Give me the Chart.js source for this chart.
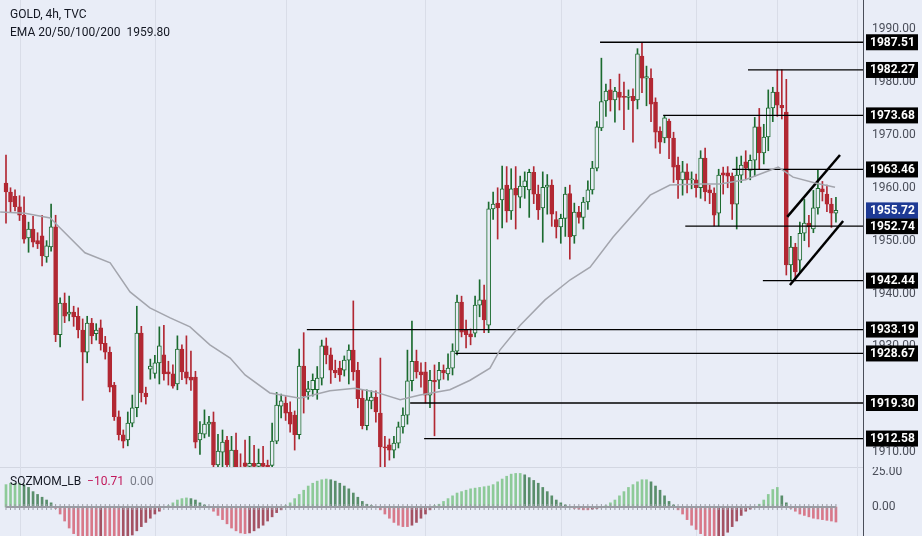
<!DOCTYPE html>
<html><head><meta charset="utf-8">
<script src="https://cdn.jsdelivr.net/npm/chart.js@4.4.0/dist/chart.umd.min.js"></script>
<style>
html,body{margin:0;padding:0;background:#e9edf7;overflow:hidden;font-family:Roboto,"Liberation Sans",sans-serif;}
#wrap{position:relative;width:922px;height:536px;}
#c1{position:absolute;left:0;top:0;width:922px;height:467px;}
#c2{position:absolute;left:0;top:467px;width:922px;height:69px;}
.lbl{position:absolute;font-size:12px;color:#131722;white-space:pre;}
</style></head><body>
<div id="wrap">
<canvas id="c1" width="922" height="467"></canvas>
<canvas id="c2" width="922" height="69"></canvas>
<div class="lbl" style="left:10px;top:7px">GOLD, 4h, TVC</div>
<div class="lbl" style="left:10px;top:25px">EMA 20/50/100/200  1959.80</div>
<div class="lbl" style="left:10px;top:474px">SQZMOM_LB  <span style="color:#c2185b">−10.71</span>  <span style="color:#787b86">0.00</span></div>
</div>
<script>
// ---- DATA ----
const openP = [1960.9,1959.2,1958.4,1956.4,1954.8,1950.5,1952.2,1950.0,1950.9,1946.9,1948.8,1952.6,1932.2,1938.2,1936.1,1936.5,1935.7,1933.1,1928.9,1934.4,1932.4,1933.5,1930.6,1928.9,1922.7,1916.7,1913.3,1912.3,1915.5,1918.4,1932.5,1921.2,1925.7,1924.9,1926.9,1928.4,1925.2,1924.8,1922.9,1929.5,1925.2,1924.2,1924.2,1912.3,1913.4,1915.3,1915.7,1907.6,1910.0,1912.3,
1907.0,1910.4,1907.2,1908.0,1907.3,1907.9,1907.3,1907.9,1907.5,1907.5,1912.1,1918.7,1919.3,1917.6,1917.0,1913.3,1926.3,1921.4,1921.8,1921.8,1924.0,1930.1,1928.4,1925.5,1925.9,1925.5,1927.4,1929.3,1925.5,1920.2,1915.0,1919.7,1920.4,1917.4,1911.0,1911.4,1910.4,1911.7,1914.8,1917.0,1923.5,1927.2,1925.2,1925.2,1920.8,1923.6,1923.6,1925.5,1924.8,1925.9,1929.1,1938.4,1933.1,1932.4,1932.5,1937.8,1938.8,1934.0,1956.0,1957.1,
1957.7,1960.5,1955.6,1959.9,1958.2,1960.2,1959.6,1962.9,1958.8,1956.2,1960.1,1960.5,1954.0,1952.6,1954.2,1958.9,1950.9,1955.4,1954.4,1957.3,1959.6,1963.7,1971.3,1976.4,1978.5,1976.6,1978.1,1977.3,1977.1,1977.3,1976.6,1984.9,1980.7,1980.7,1976.2,1970.7,1969.4,1972.6,1969.4,1964.3,
1961.5,1963.0,1961.5,1961.5,1960.0,1965.6,1959.6,1959.0,1955.2,1962.8,1962.8,1962.2,1956.9,1962.4,1964.9,1963.3,1965.2,1971.5,1966.6,1969.6,1975.1,1978.1,1975.6,1974.3,1945.4,1948.8,1946.3,1951.4,1953.3,1952.2,1956.2,1959.8,1958.8,1956.9,1955.2];
const highP = [1966.2,1960.0,1959.6,1958.5,1958.3,1953.5,1954.6,1951.5,1954.8,1950.0,1956.9,1954.8,1939.2,1940.1,1939.5,1937.6,1937.3,1935.2,1935.7,1935.3,1934.3,1935.0,1931.9,1929.9,1923.2,1917.8,1914.2,1917.6,1920.8,1937.6,1933.8,1922.3,1927.6,1928.3,1933.7,1934.0,1927.2,1926.5,1932.0,1930.3,1932.0,1929.1,1925.3,1915.8,1918.0,1916.8,1917.6,1913.4,1914.2,1913.0,
1913.0,1913.6,1909.7,1912.3,1913.0,1911.3,1910.6,1911.1,1908.5,1915.5,1921.3,1921.0,1920.5,1919.5,1917.8,1929.5,1932.6,1923.4,1924.8,1926.2,1931.2,1931.6,1929.7,1927.4,1927.2,1928.2,1930.3,1938.6,1927.0,1921.8,1921.8,1921.6,1921.6,1927.8,1913.0,1912.5,1913.0,1915.7,1918.4,1929.3,1934.8,1929.3,1926.9,1927.0,1925.5,1926.5,1927.0,1926.5,1928.6,1930.5,1939.7,1939.5,1935.0,1933.3,1939.5,1942.6,1941.6,1957.3,1959.2,1960.0,
1964.1,1964.0,1963.6,1964.0,1962.2,1963.0,1963.5,1964.0,1960.5,1963.0,1962.5,1961.5,1955.5,1955.0,1960.1,1960.5,1957.1,1956.5,1958.2,1961.3,1965.0,1972.5,1984.5,1979.6,1980.5,1979.0,1981.5,1980.0,1978.5,1978.7,1986.3,1987.5,1983.0,1982.5,1977.0,1971.5,1973.7,1973.0,1970.5,1965.8,
1965.0,1964.5,1963.0,1962.6,1967.0,1967.5,1960.5,1960.0,1963.5,1963.9,1964.0,1962.8,1965.8,1966.0,1967.0,1966.2,1973.3,1975.0,1972.0,1978.5,1979.0,1982.3,1982.3,1980.5,1950.8,1949.5,1953.5,1957.8,1954.8,1959.5,1963.5,1961.2,1960.5,1958.0,1958.2];
const lowP = [1953.3,1955.4,1955.6,1953.8,1949.5,1947.8,1948.8,1948.5,1945.2,1945.9,1948.0,1930.9,1929.9,1934.5,1934.8,1933.8,1931.6,1919.8,1926.9,1930.5,1931.2,1929.3,1927.6,1921.4,1916.0,1912.3,1910.8,1911.2,1914.8,1916.7,1919.5,1919.1,1923.8,1924.0,1922.9,1923.6,1922.7,1922.1,1921.8,1923.7,1922.9,1921.7,1910.8,1909.6,1912.7,1913.0,1907.0,1907.0,1907.0,1907.0,
1905,1905,1905,1905,1905,1905,1905,1905,1905,1905,1911.6,1916.5,1916.0,1913.8,1910.4,1912.5,1917.4,1920.0,1920.6,1920.0,1922.7,1926.7,1923.0,1924.1,1923.4,1924.4,1922.9,1923.6,1918.4,1914.4,1914.2,1918.2,1915.7,1905,1905,1908.5,1908.9,1910.8,1913.6,1915.3,1921.6,1924.0,1922.3,1919.3,1918.4,1913.1,1922.0,1923.8,1923.6,1924.6,1928.4,1931.8,1929.7,1930.3,1931.8,1935.6,1932.6,1932.6,1954.0,1950.3,
1952.4,1953.5,1954.0,1952.2,1956.2,1958.0,1954.4,1957.0,1954.0,1949.7,1955.0,1952.7,1950.5,1949.5,1950.8,1946.5,1949.5,1953.3,1952.2,1955.9,1958.8,1963.2,1970.8,1973.5,1974.5,1972.4,1974.7,1971.0,1974.8,1968.6,1974.9,1978.0,1975.5,1972.5,1967.5,1966.5,1968.5,1965.5,1961.0,1958.0,
1958.6,1959.0,1959.8,1958.2,1958.0,1957.5,1957.0,1952.8,1952.8,1958.8,1960.0,1954.0,1952.2,1961.0,1961.5,1961.5,1962.2,1963.5,1964.5,1967.0,1972.5,1973.5,1973.0,1943.5,1942.5,1942.4,1944.0,1950.0,1948.8,1951.5,1955.0,1957.5,1955.5,1952.5,1953.5];
const closeP = [1959.2,1957.3,1956.4,1954.8,1950.3,1952.2,1949.7,1949.4,1947.1,1949.0,1952.6,1932.2,1938.2,1935.7,1936.5,1935.6,1933.1,1928.9,1934.4,1932.0,1933.1,1930.5,1928.9,1922.3,1916.7,1913.3,1912.1,1915.5,1918.4,1932.5,1921.2,1920.5,1926.3,1926.9,1930.1,1924.8,1924.8,1922.5,1929.5,1925.2,1924.0,1923.6,1911.9,1913.6,1915.3,1915.7,1907.6,1910.2,1911.9,1907.6,
1910.4,1907.0,1907.0,1907.3,1907.9,1907.3,1907.9,1907.3,1907.2,1912.1,1918.9,1919.7,1917.4,1915.3,1913.3,1926.3,1920.6,1922.0,1923.6,1924.0,1930.1,1928.4,1925.5,1925.0,1924.6,1927.4,1929.3,1925.2,1920.1,1915.0,1919.9,1920.4,1917.6,1911.0,1910.8,1910.4,1911.7,1914.8,1917.0,1923.5,1927.2,1925.2,1924.6,1920.8,1923.6,1923.3,1925.5,1925.0,1925.9,1929.1,1938.4,1932.7,1932.2,1931.8,1937.8,1938.8,1935.0,1956.0,1956.9,1956.2,
1959.8,1955.6,1959.8,1958.6,1960.3,1961.3,1962.9,1958.8,1955.8,1960.1,1960.5,1955.0,1952.6,1954.2,1958.8,1950.7,1955.4,1954.4,1957.3,1959.6,1963.7,1971.5,1976.3,1978.3,1976.6,1978.3,1977.1,1977.1,1977.3,1976.4,1985.3,1980.7,1981.0,1975.8,1970.5,1968.6,1973.2,1969.4,1963.9,1961.5,
1963.0,1961.5,1961.7,1960.0,1965.6,1959.2,1959.0,1954.8,1962.4,1962.4,1962.2,1956.9,1962.4,1964.3,1963.7,1965.2,1971.5,1966.6,1969.6,1975.1,1978.1,1975.6,1975.1,1945.4,1948.8,1944.1,1951.4,1953.3,1952.6,1956.2,1959.9,1959.2,1956.9,1955.2,1955.72];
const emaIdx = [-1.3,4.2,9.8,12.0,17.5,23.1,27.5,31.9,36.4,40.8,45.2,49.7,53.0,58.5,65.2,71.8,77.4,81.8,87.4,91.8,98.4,102.9,107.3,109.5,114.0,119.5,125.1,129.5,134.6,142.8,147.2,153.9,158.3,163.9,169.4,171.2,174.5,179.4,183.8];
const emaVal = [1955.4,1955.2,1954.3,1952.4,1947.7,1945.8,1940.3,1937.3,1935.4,1933.7,1930.3,1927.8,1924.6,1921.2,1920.2,1921.6,1922.1,1921.4,1919.9,1920.8,1921.8,1923.6,1925.9,1929.3,1934.0,1938.8,1942.6,1945.0,1950.7,1958.6,1960.5,1960.7,1960.7,1961.5,1963.3,1963.9,1962.0,1960.9,1960.1];
const levelValues = [1987.51,1982.27,1973.68,1963.46,1952.74,1942.44,1933.19,1928.67,1919.30,1912.58];
const levelStart  = [131.7,164.5,145.7,161.0,150.6,167.8,66.7,99.6,89.6,92.7];
const channelUpper = [[173.2,1954.5],[184.9,1966.2]];
const channelLower = [[173.8,1941.6],[185.6,1953.7]];
const lastPrice = 1955.72;
const priceTicks = [1910,1930,1940,1950,1960,1970,1980,1990];
const sessionIdx = [3.1,33.0,62.1,93.0,123.1,153.0,171.0,188.7];
const momentum = [16,17,17,17,16,14,11,9,7,5,3,
-1,-5,-10,-15,-19,-21,-22,-22,-22,-22,-21,-22,-23,-24,-24,-23,-22,-20,-17,-14,-11,-8,-5,-3,
0.5,1,3,5,6,6.5,6,5,3,1.5,-0.5,
-3,-6,-9,-12,-15,-17,-18.5,-19,-18.5,-17,-15,-13,-10,-7,-4,-2,
1,3,6,9,12,15,17,18.5,19.5,20,19.5,18.5,17,15,13,10,7,4,2,1,0.5,
-2,-5,-8,-11,-13,-14,-14,-13,-11,-8,-5,-2,
1,2,4,6,8,10,11,12,13,13.5,14,14.5,15,16,18,20,22,23.5,24,24,23,21,19,17,14,11,8,5,3,1.5,0.5,
-1,-1.5,-2,-2,-1.5,-1,-0.5,
1,3,5,8,11,14,16,18,19.5,19.5,18,15,12,8,4,1.5,
-2,-5,-9,-13,-16,-19,-21,-23,-24,-23.5,-21,-18,-14,-10,-6,-3,-1.5,-0.5,
2,5,9,12.5,14,8,3,
-1,-3,-5,-6,-7,-8,-8.5,-9,-9.5,-10,-10.71];
const momTicks = [0,25];

// ---- STYLE ----
const RED='#b22833', GREEN='#1b6b2f', BG='#e9edf7';
const XMIN=-1.33, XMAX=190.0;
const idx = closeP.map((_,i)=>i);
const isUp = idx.map(i=>closeP[i]>=openP[i]);
Chart.defaults.font.family = 'Roboto, "Liberation Sans", sans-serif';
Chart.defaults.animation = false;

const lineDs = (pts,color,w)=>({type:'line',data:pts,borderColor:color,borderWidth:w,pointRadius:0,pointHoverRadius:0,fill:false,tension:0,order:0});

const datasets = [
  {type:'bar',data:idx.map(i=>({x:i,y:[lowP[i],highP[i]]})),backgroundColor:idx.map(i=>isUp[i]?GREEN:RED),barThickness:1,grouped:false,order:3},
  {type:'bar',data:idx.map(i=>({x:i,y:[Math.min(openP[i],closeP[i]),Math.max(openP[i],closeP[i])]})),
   backgroundColor:idx.map(i=>isUp[i]?BG:RED),borderColor:idx.map(i=>isUp[i]?GREEN:RED),borderWidth:1,borderSkipped:false,
   barThickness:4,minBarLength:1,grouped:false,order:2},
  lineDs(emaIdx.map((x,i)=>({x,y:emaVal[i]})),'#a3a5ad',1.5),
];
levelValues.forEach((v,i)=>datasets.push(lineDs([{x:levelStart[i],y:v},{x:XMAX,y:v}],'#000000',1.3)));
datasets.push(lineDs(channelUpper.map(p=>({x:p[0],y:p[1]})),'#000000',2.5));
datasets.push(lineDs(channelLower.map(p=>({x:p[0],y:p[1]})),'#000000',2.5));

const sessionGrid = {id:'sg',beforeDatasetsDraw(ch){const c=ch.ctx,xs=ch.scales.x,a=ch.chartArea;c.save();c.strokeStyle='#d9dde8';c.lineWidth=1;
  sessionIdx.forEach(s=>{const x=Math.round(xs.getPixelForValue(s))+0.5;c.beginPath();c.moveTo(x,a.top);c.lineTo(x,a.bottom);c.stroke();});c.restore();}};
const boxes = {id:'bx',afterDraw(ch){const c=ch.ctx,ys=ch.scales.y;c.save();c.font='bold 12px Roboto, "Liberation Sans", sans-serif';c.textBaseline='middle';
  const draw=(v,col)=>{const y=ys.getPixelForValue(v);c.fillStyle=col;c.fillRect(866,y-8,52,16);c.fillStyle='#fff';c.fillText(v.toFixed(2),870,y+0.5);};
  levelValues.forEach(v=>draw(v,'#000000'));draw(lastPrice,'#1e3a94');c.restore();}};

const yScale = (min,max,ticks)=>({position:'right',min,max,
  afterBuildTicks:s=>{s.ticks=ticks.map(v=>({value:v}));},
  afterFit:s=>{s.width=59;s.paddingTop=0;s.paddingBottom=0;},
  grid:{display:false,drawTicks:false},border:{display:true,color:'#4a4e59',width:1},
  ticks:{padding:9,color:'#4a4e59',font:{size:12},callback:v=>Number(v).toFixed(2)}});
const xScale = ()=>({type:'linear',min:XMIN,max:XMAX,offset:false,display:false});

new Chart(document.getElementById('c1'),{
  data:{datasets},
  options:{responsive:false,devicePixelRatio:1,layout:{padding:0,autoPadding:false},
    plugins:{legend:{display:false},tooltip:{enabled:false}},
    scales:{x:xScale(),y:yScale(1907.2,1995.5,priceTicks)}},
  plugins:[sessionGrid,boxes]
});

const momColor = idx.map(i=>{const v=momentum[i],p=i>0?momentum[i-1]:v;
  if(v>=0) return v>=p?'rgba(110,190,120,0.75)':'rgba(40,110,60,0.75)';
  return v<=p?'rgba(210,80,100,0.75)':'rgba(140,30,50,0.75)';});
const topLine = {id:'tl',beforeDraw(ch){const c=ch.ctx;c.save();c.fillStyle='#d3d7e2';c.fillRect(0,0,863,1);c.restore();}};
new Chart(document.getElementById('c2'),{
  data:{datasets:[
    {type:'line',data:idx.map(i=>({x:i,y:0})),borderColor:'#9a9ca4',borderWidth:2,pointStyle:'line',rotation:90,pointRadius:3,pointHoverRadius:3,pointBorderColor:'#9a9ca4',pointBorderWidth:1,order:0},
    {type:'bar',data:idx.map(i=>({x:i,y:momentum[i]})),backgroundColor:momColor,barThickness:2,grouped:false,order:1}
  ]},
  options:{responsive:false,devicePixelRatio:1,layout:{padding:0,autoPadding:false},
    plugins:{legend:{display:false},tooltip:{enabled:false}},
    scales:{x:xScale(),y:yScale(-20.7,28.6,momTicks)}},
  plugins:[sessionGrid,topLine]
});
</script>
</body></html>
